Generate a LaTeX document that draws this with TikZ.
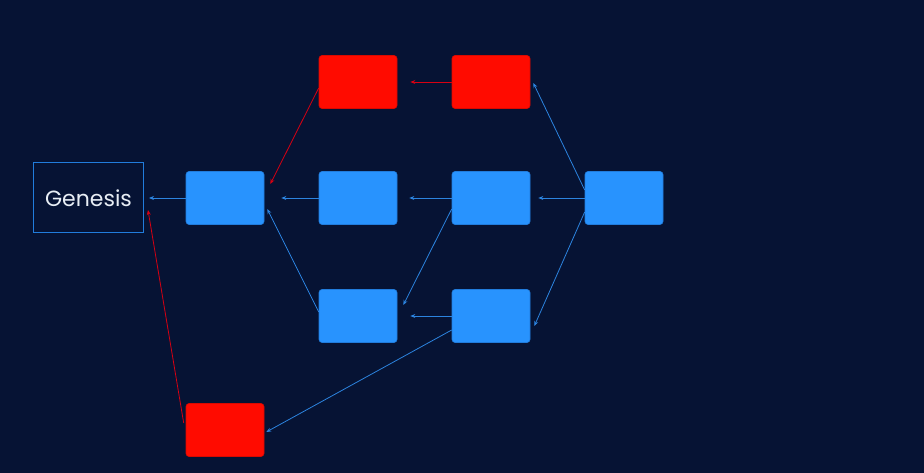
\documentclass[tikz,border=0pt]{standalone}
\usepackage{fontspec}
\setmainfont{Poppins}
\usetikzlibrary{arrows.meta,calc}
\definecolor{bgc}{RGB}{6,19,52}
\definecolor{bluef}{RGB}{40,147,254}
\definecolor{blued}{RGB}{33,124,220}
\definecolor{bluea}{RGB}{44,132,224}
\definecolor{redf}{RGB}{255,11,0}
\definecolor{reda}{RGB}{215,0,18}
\definecolor{txt}{RGB}{232,238,245}
\begin{document}
\begin{tikzpicture}[x=1pt,y=-1pt,
  blk/.style={rectangle,rounded corners=3pt,minimum width=78pt,minimum height=53pt,inner sep=0pt,line width=0.6pt},
  bblk/.style={blk,fill=bluef,draw=blued},
  rblk/.style={blk,fill=redf,draw=redf!85!black},
  arr/.style={draw=bluea,line width=0.8pt,-{Stealth[length=5pt,width=4pt]}},
  rarr/.style={draw=reda,line width=0.8pt,-{Stealth[length=5pt,width=4pt]}}]
\fill[bgc] (0,0) rectangle (924,473);
\useasboundingbox (0,0) rectangle (924,473);
\node[rectangle,draw=blued,line width=1pt,minimum width=110pt,minimum height=70pt,text=txt,font=\fontsize{22}{26}\selectfont] (gen) at (88.5,198) {Genesis};
\node[bblk] (b1) at (225,198) {};
\node[rblk] (r1) at (358,82) {};
\node[rblk] (r2) at (491,82) {};
\node[bblk] (b2) at (358,198) {};
\node[bblk] (b3) at (491,198) {};
\node[bblk] (b4) at (624,198) {};
\node[bblk] (b5) at (358,316) {};
\node[bblk] (b6) at (491,316) {};
\node[rblk] (r3) at (225,430) {};
% horizontal
\draw[arr,shorten >=5pt] (b1.west) -- (gen.east);
\draw[arr,shorten >=17pt] (b2.west) -- (b1.east);
\draw[arr,shorten >=12pt] (b3.west) -- (b2.east);
\draw[arr,shorten >=8pt] (b4.west) -- (b3.east);
\draw[rarr,shorten >=13pt] (r2.west) -- (r1.east);
\draw[arr,shorten >=13pt] (b6.west) -- (b5.east);
% diagonals
\draw[rarr] ($(r1.west)+(0,6)$) -- ($(b1.east)+(6,-14)$);
\draw[arr] ($(b5.west)+(0,-4)$) -- ($(b1.east)+(3,11)$);
\draw[arr] ($(b3.west)+(0,11)$) -- ($(b5.east)+(6,-11)$);
\draw[arr] ($(b6.west)+(0,14)$) -- ($(r3.east)+(2,2)$);
\draw[arr] ($(b4.west)+(0,-8)$) -- ($(r2.east)+(3,1)$);
\draw[arr] ($(b4.west)+(0,14)$) -- ($(b6.east)+(4,10)$);
\draw[rarr] ($(r3.west)+(-2,-7)$) -- ($(gen.east)+(4,12)$);
\end{tikzpicture}
\end{document}
